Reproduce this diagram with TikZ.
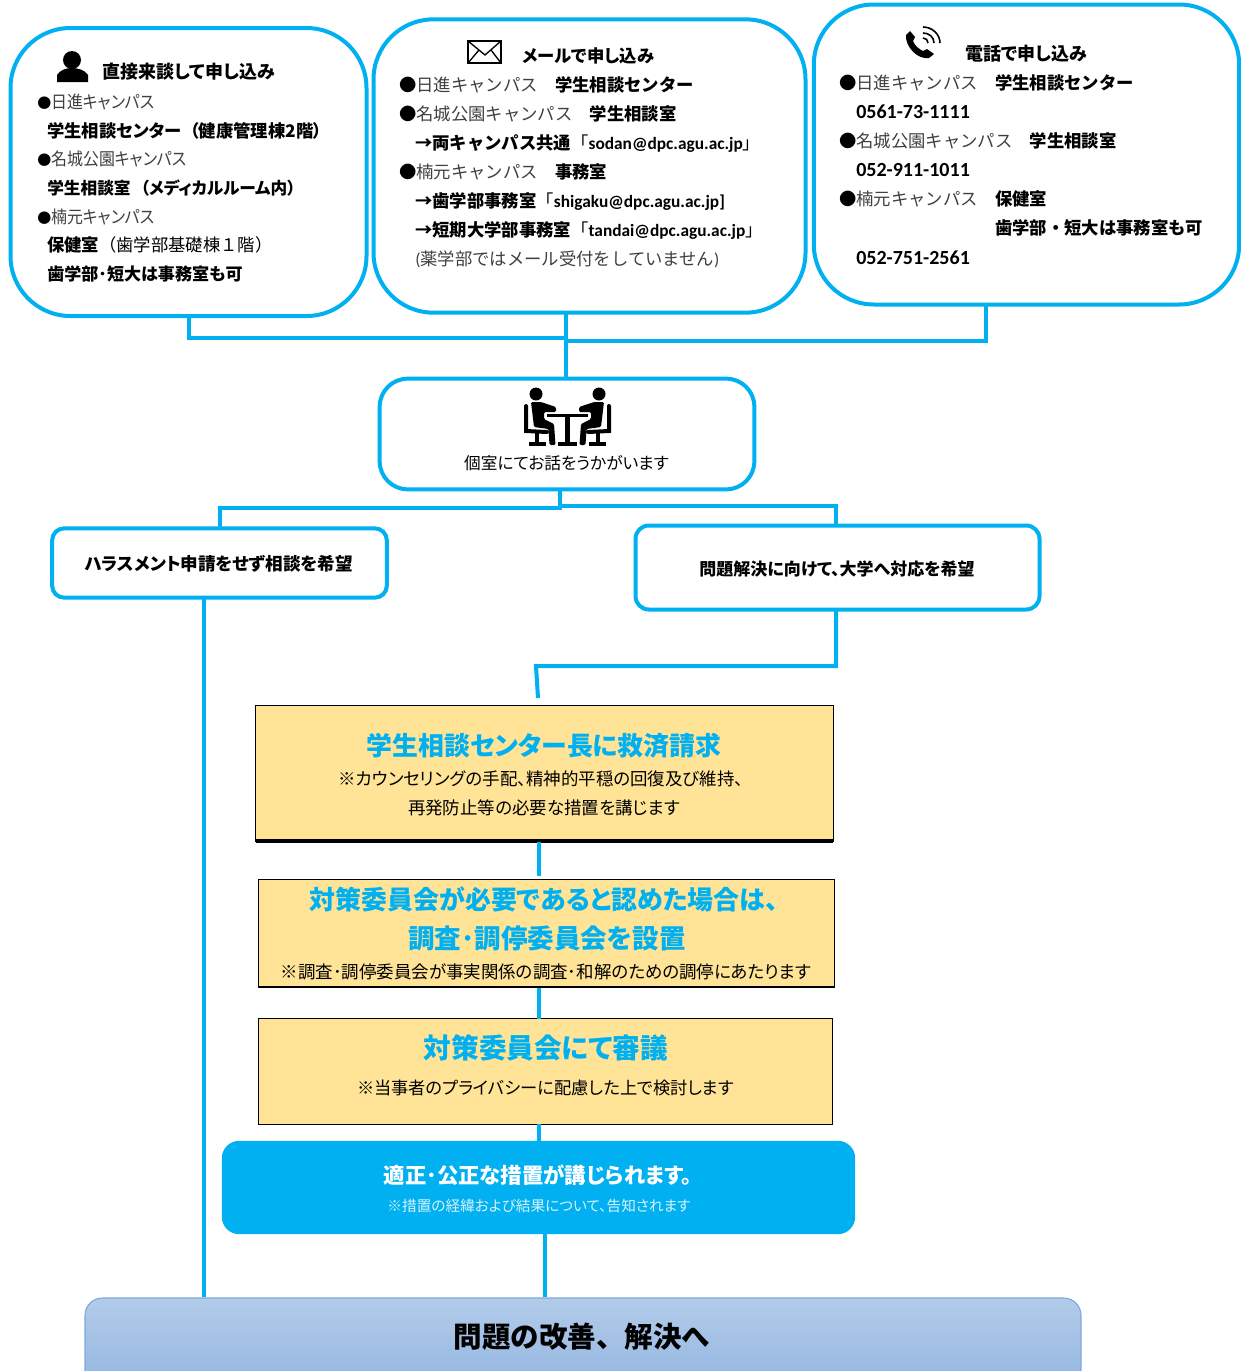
\documentclass[tikz,border=0pt]{standalone}
\usepackage{graphicx}
\usepackage{fontspec}
\setmainfont{Noto Sans CJK JP}
\newfontfamily\paltfont{Noto Sans CJK JP}[RawFeature=+palt]
\newfontfamily\latinfont{Carlito}
\newcommand{\lat}[1]{{\latinfont #1}}
\newcommand{\fsz}[1]{\fontsize{#1}{#1}\selectfont}
\definecolor{lineblue}{HTML}{00B0F0}
\definecolor{paleyellow}{HTML}{FFE396}
\definecolor{softgray}{HTML}{404040}
\definecolor{resulttop}{HTML}{B2CBE9}
\definecolor{resultbottom}{HTML}{92B5E1}
\definecolor{resultedge}{HTML}{7FA8DC}
\tikzset{
    panel/.style={draw=lineblue,line width=3pt,fill=white,inner sep=0pt,outer sep=0pt},
    plate/.style={draw=black,line width=0.7pt,fill=paleyellow,inner sep=0pt,outer sep=0pt},
    wire/.style={draw=lineblue,line width=3pt},
    row/.style={anchor=base west,inner sep=0pt,font=\fsz{13}},
    mid/.style={anchor=base,inner sep=0pt,font=\fsz{13.1}\paltfont},
    headline/.style={anchor=base,inner sep=0pt,text=lineblue,font=\fsz{19.4}\bfseries\paltfont},
    glyph/.style={fill=black,draw=none},
}
\newcommand{\place}[1]{{\color{softgray}#1}}
\newcommand{\dotmark}{{\fsz{10.5}●}}
\newcommand{\tight}[1]{\scalebox{0.92}[1]{\place{#1}}}
\begin{document}
\begin{tikzpicture}[x=0.75pt,y=-0.75pt]
    \useasboundingbox (0,0) rectangle (1241,1371);
    % Contact panels
    \node[panel,minimum width=267pt,minimum height=216pt,rounded corners=45pt] (visit) at (188.5,172) {};
    \node[panel,minimum width=324pt,minimum height=220pt,rounded corners=45pt] (mail) at (589.5,166) {};
    \node[panel,minimum width=319pt,minimum height=225pt,rounded corners=45pt] (phone) at (1026.5,154.5) {};
    \node[panel,minimum width=281pt,minimum height=83pt,rounded corners=21pt] (room) at (567,434) {};
    \node[panel,minimum width=251pt,minimum height=52pt,rounded corners=9pt] (consult) at (219.5,563) {};
    \node[panel,minimum width=303pt,minimum height=63pt,rounded corners=10pt] (resolve) at (837.5,567.5) {};
    % Procedure boxes
    \node[plate,minimum width=433pt,minimum height=102pt] (claim) at (544.5,773) {};
    \node[plate,minimum width=432pt,minimum height=81pt] (setup) at (546,933) {};
    \node[plate,minimum width=431pt,minimum height=79pt] (review) at (545.5,1071.5) {};
    \draw[line width=2.4pt] (claim.south west) -- (claim.south east);
    \draw[line width=2.2pt] (setup.south west) -- (setup.south east);
    \node[fill=lineblue,inner sep=0pt,minimum width=475pt,minimum height=70pt,rounded corners=13pt] (measure) at (538.5,1187.5) {};
    \begin{scope}
        \clip (0,0) rectangle (1241,1371);
        \node[draw=resultedge,line width=0.8pt,top color=resulttop,bottom color=resultbottom,inner sep=0pt,
            minimum width=747pt,minimum height=72pt,rounded corners=13pt] (result) at (583,1346) {};
    \end{scope}
    % Connectors
    \coordinate (junction) at (566,338);
    \coordinate (phonefoot) at (986,305);
    \draw[wire] (visit.south) |- (junction);
    \draw[wire] (phonefoot) |- (566,341);
    \draw[wire] (mail.south -| junction) -- (junction |- room.north);
    \coordinate (roomfoot) at (560,490);
    \coordinate (resolvetop) at (836,525);
    \coordinate (resolvefoot) at (836,610);
    \draw[wire] (consult.north) -- ++(0,-20) -| (roomfoot);
    \draw[wire] (resolvetop) -- ++(0,-19) -| (roomfoot);
    \coordinate (consultfoot) at (204,598);
    \draw[wire] (consultfoot) -- (consultfoot |- result.north);
    \coordinate (claimtop) at (538,698);
    \draw[wire] (resolvefoot) -- ++(0,56) -- (536,666) -- (claimtop);
    \coordinate (claimfoot) at (539,842);
    \coordinate (setuptop) at (539,876);
    \draw[wire] (claimfoot) -- (setuptop);
    \coordinate (setupfoot) at (539,988);
    \draw[wire] (setupfoot) -- (setupfoot |- review.north);
    \coordinate (reviewfoot) at (539,1124);
    \draw[wire] (reviewfoot) -- (reviewfoot |- measure.north);
    \coordinate (measurefoot) at (545,1234);
    \draw[wire] (measurefoot) -- (measurefoot |- result.north);
    % Person icon
    \fill[glyph] (72,60) circle (9);
    \fill[glyph] (57,82) -- (57,75) .. controls (60,70) and (66,68) .. (72,68) .. controls (78,68) and (85,70) .. (88,75) -- (88,82) -- cycle;
    % Envelope icon
    \draw[line width=1.5pt] (468,41) rectangle (501,63);
    \draw[line width=1pt] (468,41) -- (485,55) -- (501,41);
    \draw[line width=1pt] (468,63) -- (479,50);
    \draw[line width=1pt] (501,63) -- (491,50);
    % Phone icon
    \fill[glyph] (906,35) -- (910,31) -- (915,37) -- (913,41) .. controls (915,46) and (919,49) .. (923,51) -- (927,49) -- (934,54) -- (929,58) .. controls (918,60) and (905,47) .. (906,35);
    \draw[line width=1.2pt] (923,38) .. controls (926,38) and (928,40) .. (928,43);
    \draw[line width=1.2pt] (923,33) .. controls (929,33) and (934,37) .. (934,43);
    \draw[line width=1.2pt] (923,27) .. controls (932,27) and (940,34) .. (940,43);
    % Meeting icon
    \foreach \side in {0,1} {
        \begin{scope}[shift={(1135*\side,0)},xscale={1-2*\side}]
            \fill[glyph] (536,394) circle (6.5);
            \fill[glyph,rounded corners=1pt] (531,402) -- (541,402) -- (556,407) -- (556,412) -- (544,412) -- (544,419) -- (554,424) -- (555.5,445) -- (549.5,445) -- (548.5,429) -- (534,427) -- cycle;
            \draw[line width=3pt,line cap=round] (526,406) -- (526,431) -- (547,432);
            \draw[line width=3pt] (537,432) -- (537,443);
            \draw[line width=3pt] (529,444) -- (546,444);
        \end{scope}
    }
    \draw[line width=2.8pt] (547,415.5) -- (588,415.5);
    \draw[line width=3.6pt] (567.5,415) -- (567.5,442);
    \draw[line width=3pt] (558,444) -- (577,444);
    % Walk-in panel text
    \node[row,font=\fsz{13.5}\bfseries\paltfont] (visithead) at (102,78) {直接来談して申し込み};
    \node[row,font=\fsz{13}\paltfont] (visitA) at (37,108) {\dotmark\tight{日進キャンパス}};
    \node[row,font=\fsz{13}\bfseries\paltfont] (visitB) at (47,137) {学生相談センター\hspace{0.5em}（健康管理棟2階）};
    \node[row,font=\fsz{13}\paltfont] (visitC) at (37,165) {\dotmark\tight{名城公園キャンパス}};
    \node[row,font=\fsz{12.5}\bfseries\paltfont] (visitD) at (47,194) {学生相談室\hspace{0.6em}（メディカルルーム内）};
    \node[row,font=\fsz{13}\paltfont] (visitE) at (37,223) {\dotmark\tight{楠元キャンパス}};
    \node[row] (visitF) at (47,251) {\textbf{保健室}（歯学部基礎棟１階）};
    \node[row,font=\fsz{12.8}\bfseries\paltfont] (visitG) at (47,280) {歯学部･短大は事務室も可};
    % Mail panel text
    \node[row,font=\fsz{13}\bfseries\paltfont] (mailhead) at (522,62) {メールで申し込み};
    \node[row] (mailA) at (399,91) {●\place{日進キャンパス}　\textbf{学生相談センター}};
    \node[row] (mailB) at (399,120) {●\place{名城公園キャンパス}　\textbf{学生相談室}};
    \node[row] (mailC) at (415,149) {\textbf{→両キャンパス共通}「\textbf{\lat{sodan@dpc.agu.ac.jp}}」};
    \node[row] (mailD) at (399,178) {●\place{楠元キャンパス}　\textbf{事務室}};
    \node[row] (mailE) at (415,207) {\textbf{→歯学部事務室}「\textbf{\lat{shigaku@dpc.agu.ac.jp]}}};
    \node[row] (mailF) at (415,236) {\textbf{→短期大学部事務室}「\textbf{\lat{tandai@dpc.agu.ac.jp}}」};
    \node[row] (mailG) at (415,265) {\place{\lat{(}薬学部ではメール受付をしていません\lat{)}}};
    % Phone panel text
    \node[row,font=\fsz{13.5}\bfseries\paltfont] (phonehead) at (965,60) {電話で申し込み};
    \node[row] (phoneA) at (839,89) {●\place{日進キャンパス}　\textbf{学生相談センター}};
    \node[row,font=\fsz{15}\bfseries\latinfont] (phoneB) at (856,118) {0561-73-1111};
    \node[row] (phoneC) at (839,147) {●\place{名城公園キャンパス}　\textbf{学生相談室}};
    \node[row,font=\fsz{15}\bfseries\latinfont] (phoneD) at (856,176) {052-911-1011};
    \node[row] (phoneE) at (839,205) {●\place{楠元キャンパス}　\textbf{保健室}};
    \node[row,font=\fsz{13}\bfseries] (phoneF) at (995,234) {歯学部・短大は事務室も可};
    \node[row,font=\fsz{15}\bfseries\latinfont] (phoneG) at (856,264) {052-751-2561};
    % Middle texts
    \node[mid,font=\fsz{12.5}\paltfont] (roomtext) at (566.5,469) {個室にてお話をうかがいます};
    \node[mid,font=\fsz{13.2}\bfseries\paltfont] (consulttext) at (219,570) {ハラスメント申請をせず相談を希望};
    \node[mid,font=\fsz{12.75}\bfseries\paltfont] (resolvetext) at (837,575) {問題解決に向けて、大学へ対応を希望};
    % Procedure texts
    \node[headline] (claimhead) at (544,755) {学生相談センター長に救済請求};
    \node[mid] (claimA) at (541,785) {※カウンセリングの手配、精神的平穏の回復及び維持、};
    \node[mid] (claimB) at (544,814) {再発防止等の必要な措置を講じます};
    \node[headline,font=\fsz{19.45}\bfseries\paltfont] (setuphead) at (544,909) {対策委員会が必要であると認めた場合は、};
    \node[headline,font=\fsz{19.9}\bfseries\paltfont] (setupA) at (547,948) {調査･調停委員会を設置};
    \node[mid] (setupB) at (546,978) {※調査･調停委員会が事実関係の調査･和解のための調停にあたります};
    \node[headline,font=\fsz{20.75}\bfseries\paltfont] (reviewhead) at (546,1058) {対策委員会にて審議};
    \node[mid,font=\fsz{12.95}\paltfont] (reviewA) at (545.5,1094) {※当事者のプライバシーに配慮した上で検討します};
    \node[mid,text=white,font=\fsz{16}\bfseries\paltfont] (measurehead) at (538,1183) {適正･公正な措置が講じられます。};
    \node[mid,text=white!85!lineblue,font=\fsz{11}\paltfont] (measureA) at (539,1211) {※措置の経緯および結果について、告知されます};
    \node[mid,font=\fsz{21.4}\bfseries] (resulttext) at (582,1347) {問題の改善、解決へ};
\end{tikzpicture}
\end{document}
